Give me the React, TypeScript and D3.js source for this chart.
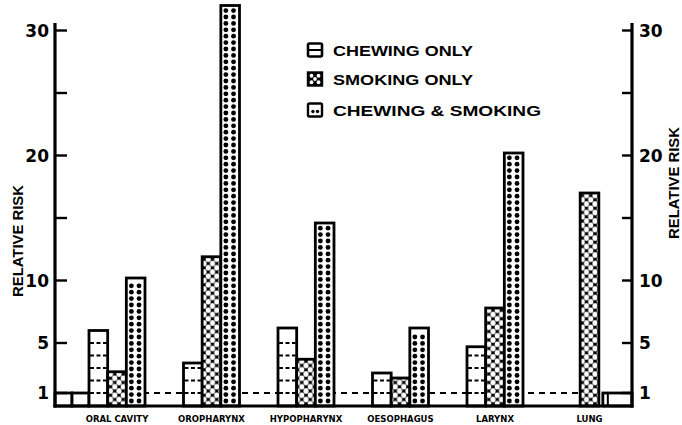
import React from 'react';
import * as d3 from 'd3';

const categories = ['ORAL CAVITY', 'OROPHARYNX', 'HYPOPHARYNX', 'OESOPHAGUS', 'LARYNX', 'LUNG'];
const seriesNames = ['CHEWING ONLY', 'SMOKING ONLY', 'CHEWING & SMOKING'];
const chewingOnly: (number | null)[] = [6.0, 3.4, 6.2, 2.6, 4.7, null];
const smokingOnly: (number | null)[] = [2.7, 11.9, 3.7, 2.2, 7.8, 17.0];
const chewingAndSmoking: (number | null)[] = [10.2, 32.0, 14.6, 6.2, 20.2, null];
const referenceValue = 1;
const majorTicks = [1, 5, 10, 20, 30];
const minorTicks = [15, 25];
const axisTitle = 'RELATIVE RISK';

const W = 682;
const H = 425;
const leftAxisX = 55;
const rightAxisX = 632;
const baseY = 406;

const y = d3.scaleLinear().domain([0, 30]).range([405.5, 30.5]);
const x0 = d3.scaleBand<string>().domain(categories).range([89, 617.5]).paddingInner(0.4074).paddingOuter(0);
const x1 = d3.scaleBand<number>().domain([0, 1, 2]).range([0, x0.bandwidth()]);

const seriesValues = [chewingOnly, smokingOnly, chewingAndSmoking];
const font = '"Liberation Sans", Arial, sans-serif';

function ChewingBar({ x, w, v }: { x: number; w: number; v: number }) {
  const top = y(v);
  const lines: number[] = [];
  for (let k = 1; k < v - 0.3; k++) lines.push(k);
  return (
    <g>
      <rect x={x} y={top} width={w} height={baseY - top} fill="#fff" stroke="#000" strokeWidth={2.8} />
      {lines.map((k) => (
        <line key={k} x1={x + 1} x2={x + w - 1} y1={y(k)} y2={y(k)} stroke="#000" strokeWidth={1.8} strokeDasharray="4 2.5" />
      ))}
    </g>
  );
}

function SmokingBar({ x, w, v }: { x: number; w: number; v: number }) {
  const top = y(v);
  return (
    <rect x={x} y={top} width={w} height={baseY - top} fill="url(#lattice)" stroke="#000" strokeWidth={2.8} />
  );
}

function BothBar({ x, w, v }: { x: number; w: number; v: number }) {
  const top = y(v);
  const dots: number[] = [];
  for (let yy = baseY - 5; yy > top + 3; yy -= 6.4) dots.push(yy);
  return (
    <g>
      <rect x={x} y={top} width={w} height={baseY - top} fill="#fff" stroke="#000" strokeWidth={2.8} />
      {dots.map((yy, i) => (
        <g key={i}>
          <circle cx={x + w * 0.27} cy={yy} r={2.4} fill="#000" />
          <circle cx={x + w * 0.68} cy={yy} r={2.4} fill="#000" />
        </g>
      ))}
    </g>
  );
}

export default function App() {
  const bw = x1.bandwidth();
  const refTop = y(referenceValue);
  const firstBandX = x0(categories[0]) as number;
  const lungSmokeEnd = (x0('LUNG') as number) + (x1(1) as number) + bw;
  const leftMid = (leftAxisX + firstBandX) / 2;
  const rightRefStart = lungSmokeEnd + 4;

  const legendY = [50, 79, 110];

  return (
    <svg width={W} height={H} style={{ position: 'absolute', left: 0, top: 0, background: '#fff' }}>
      <defs>
        <pattern id="lattice" patternUnits="userSpaceOnUse" width={8.5} height={8.5}>
          <rect width={8.5} height={8.5} fill="#000" />
          <ellipse cx={0} cy={0} rx={2.6} ry={2.8} fill="#fff" />
          <ellipse cx={8.5} cy={0} rx={2.6} ry={2.8} fill="#fff" />
          <ellipse cx={0} cy={8.5} rx={2.6} ry={2.8} fill="#fff" />
          <ellipse cx={8.5} cy={8.5} rx={2.6} ry={2.8} fill="#fff" />
          <ellipse cx={4.25} cy={4.25} rx={2.6} ry={2.8} fill="#fff" />
        </pattern>
      </defs>

      {/* reference dashed line at RR = 1 */}
      <line x1={leftAxisX} x2={rightAxisX} y1={refTop} y2={refTop} stroke="#000" strokeWidth={2.2} strokeDasharray="6 5" />

      {/* reference boxes */}
      <rect x={leftAxisX} y={refTop} width={leftMid - leftAxisX} height={baseY - refTop} fill="#fff" stroke="#000" strokeWidth={2.8} />
      <rect x={leftMid} y={refTop} width={firstBandX - leftMid} height={baseY - refTop} fill="#fff" stroke="#000" strokeWidth={2.8} />
      <rect x={rightRefStart} y={refTop} width={rightAxisX - rightRefStart} height={baseY - refTop} fill="#fff" stroke="#000" strokeWidth={2.8} />
      <line x1={rightRefStart + 5} x2={rightRefStart + 5} y1={refTop} y2={baseY} stroke="#000" strokeWidth={2} />

      {/* bars */}
      {categories.map((c, i) => {
        const gx = x0(c) as number;
        return (
          <g key={c}>
            {seriesValues.map((vals, s) => {
              const v = vals[i];
              if (v == null) return null;
              const bx = gx + (x1(s) as number);
              if (s === 0) return <ChewingBar key={s} x={bx} w={bw} v={v} />;
              if (s === 1) return <SmokingBar key={s} x={bx} w={bw} v={v} />;
              return <BothBar key={s} x={bx} w={bw} v={v} />;
            })}
          </g>
        );
      })}

      {/* axes */}
      <line x1={leftAxisX} x2={leftAxisX} y1={y(30.6)} y2={baseY + 1.5} stroke="#000" strokeWidth={3.2} />
      <line x1={rightAxisX} x2={rightAxisX} y1={y(30.6)} y2={baseY + 1.5} stroke="#000" strokeWidth={3.2} />
      <line x1={leftAxisX - 1.5} x2={rightAxisX + 1.5} y1={baseY} y2={baseY} stroke="#000" strokeWidth={3.2} />

      {[...majorTicks, ...minorTicks].map((t) => (
        <g key={t}>
          <line x1={leftAxisX} x2={leftAxisX + 12} y1={y(t)} y2={y(t)} stroke="#000" strokeWidth={2.4} />
          <line x1={rightAxisX} x2={rightAxisX - 10} y1={y(t)} y2={y(t)} stroke="#000" strokeWidth={2.4} />
        </g>
      ))}
      {majorTicks.map((t) => (
        <g key={'l' + t} fontFamily='"DejaVu Sans", sans-serif' fontWeight="bold" fontSize={17}>
          <text x={leftAxisX - 6} y={y(t) + 6} textAnchor="end">{t}</text>
          <text x={rightAxisX + 7} y={y(t) + 6} textAnchor="start">{t}</text>
        </g>
      ))}

      {/* axis titles */}
      <text transform="translate(23,241) rotate(-90)" textAnchor="middle" fontFamily={font} fontWeight="bold" fontSize={15} textLength={112} lengthAdjust="spacingAndGlyphs">{axisTitle}</text>
      <text transform="translate(679,183) rotate(-90)" textAnchor="middle" fontFamily={font} fontWeight="bold" fontSize={15} textLength={112} lengthAdjust="spacingAndGlyphs">{axisTitle}</text>

      {/* category labels */}
      {categories.map((c) => (
        <text key={c} x={(x0(c) as number) + x0.bandwidth() / 2} y={422} textAnchor="middle" fontFamily='"DejaVu Sans", sans-serif' fontWeight="bold" fontSize={8.5}>{c}</text>
      ))}

      {/* legend */}
      {seriesNames.map((n, i) => {
        const cy = legendY[i];
        const ix = 308;
        const iw = 14;
        const ih = 13;
        return (
          <g key={n}>
            {i === 0 && (
              <g>
                <rect x={ix} y={cy - ih / 2} width={iw} height={ih} fill="#fff" stroke="#000" strokeWidth={2.6} rx={1.5} />
                <line x1={ix} x2={ix + iw} y1={cy} y2={cy} stroke="#000" strokeWidth={2} />
              </g>
            )}
            {i === 1 && (
              <g>
                <rect x={ix} y={cy - ih / 2} width={iw} height={ih} fill="#000" stroke="#000" strokeWidth={2.4} />
                {[[0.25, 0.25], [0.75, 0.25], [0.5, 0.5], [0.25, 0.75], [0.75, 0.75]].map(([fx, fy], k) => (
                  <circle key={k} cx={ix + fx * iw} cy={cy - ih / 2 + fy * ih} r={1.9} fill="#fff" />
                ))}
              </g>
            )}
            {i === 2 && (
              <g>
                <rect x={ix} y={cy - ih / 2} width={iw} height={ih} fill="#fff" stroke="#000" strokeWidth={2.4} rx={1.5} />
                <circle cx={ix + iw * 0.35} cy={cy + 1.5} r={1.7} fill="#000" />
                <circle cx={ix + iw * 0.68} cy={cy + 1.5} r={1.7} fill="#000" />
              </g>
            )}
            <text x={333} y={cy + 6} fontFamily={font} fontWeight="bold" fontSize={15} textLength={i === 2 ? 208 : 140} lengthAdjust="spacingAndGlyphs">{n}</text>
          </g>
        );
      })}
    </svg>
  );
}
